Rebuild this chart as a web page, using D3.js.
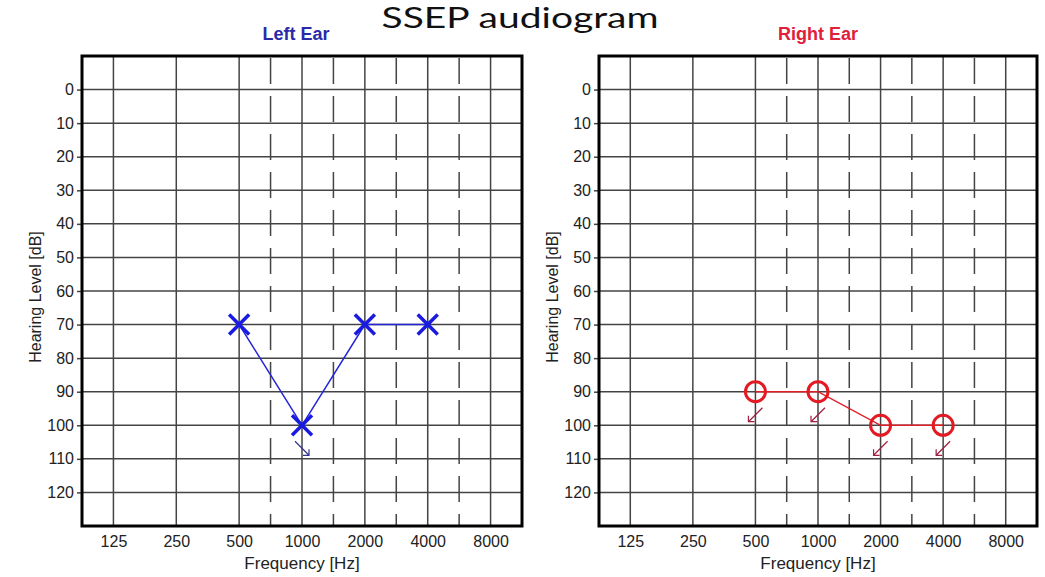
<!DOCTYPE html>
<html>
<head>
<meta charset="utf-8">
<script src="https://cdn.jsdelivr.net/npm/d3@7"></script>
<style>
  body { margin: 0; background: #fff; }
  text { font-family: "Liberation Sans", Arial, sans-serif; }
</style>
</head>
<body>
<svg id="chart" width="1045" height="577"></svg>
<script>
// tick values
var freqTicks = [125, 250, 500, 1000, 2000, 4000, 8000];
var midFreqs = [707, 1414, 2828, 5657]; // inter-octave dashed lines (drawn half way)
var dbTicks = [0, 10, 20, 30, 40, 50, 60, 70, 80, 90, 100, 110, 120];

// left ear thresholds
var leftFreq = [500, 1000, 2000, 4000];
var leftDb = [70, 100, 70, 70];
var leftNoResp = [false, true, false, false];

// right ear thresholds
var rightFreq = [500, 1000, 2000, 4000];
var rightDb = [90, 90, 100, 100];
var rightNoResp = [true, true, true, true];

var svg = d3.select("#chart");

svg.append("text").attr("x", 520).attr("y", 28).attr("text-anchor", "middle")
    .style("font-family", "Lato, 'Liberation Sans', sans-serif").style("font-size", "28px")
    .attr("textLength", 277).attr("lengthAdjust", "spacingAndGlyphs")
    .attr("fill", "#111").text("SSEP audiogram");

function drawPanel(left, top, width, height, opts){
    var g = svg.append("g").attr("transform", "translate(" + left + "," + top + ")");
    var x = d3.scaleLog().base(2).domain([125 / Math.SQRT2, 8000 * Math.SQRT2]).range([0, width]);
    var y = d3.scaleLinear().domain([-10, 130]).range([0, height]);

    // title
    g.append("text").attr("x", width / 2 + opts.titleShift).attr("y", -16).attr("text-anchor", "middle")
        .style("font-size", "18px").style("font-weight", "bold").attr("fill", opts.titleColor).text(opts.title);

    // horizontal grid
    g.append("g").selectAll("line").data(dbTicks).enter().append("line")
        .attr("x1", 0).attr("x2", width).attr("y1", function(d){ return y(d); }).attr("y2", function(d){ return y(d); })
        .attr("stroke", "#444").attr("stroke-width", 1.5);
    // octave grid
    g.append("g").selectAll("line").data(freqTicks).enter().append("line")
        .attr("x1", function(d){ return x(d); }).attr("x2", function(d){ return x(d); }).attr("y1", 0).attr("y2", height)
        .attr("stroke", "#444").attr("stroke-width", 1.5);
    // inter-octave dashed grid
    g.append("g").selectAll("line").data(midFreqs).enter().append("line")
        .attr("x1", function(d){ return x(d); }).attr("x2", function(d){ return x(d); }).attr("y1", 2).attr("y2", height)
        .attr("stroke", "#444").attr("stroke-width", 1.5).attr("stroke-dasharray", "26 12");

    // y axis
    var yAxis = d3.axisLeft(y).tickValues(dbTicks).tickSize(5).tickPadding(3);
    var ya = g.append("g").call(yAxis);
    ya.select(".domain").remove();
    ya.selectAll("line").attr("stroke", "#444").attr("stroke-width", 1.5);
    ya.selectAll("text").style("font-size", "16px").style("font-family", "'Liberation Sans', Arial, sans-serif").attr("fill", "#222");

    // x axis labels
    var xAxis = d3.axisBottom(x).tickValues(freqTicks).tickSize(0).tickPadding(10).tickFormat(d3.format("d"));
    var xa = g.append("g").attr("transform", "translate(0," + height + ")").call(xAxis);
    xa.select(".domain").remove();
    xa.selectAll("text").style("font-size", "16px").style("font-family", "'Liberation Sans', Arial, sans-serif").attr("fill", "#222");

    g.append("text").attr("x", width / 2).attr("y", height + 43).attr("text-anchor", "middle")
        .style("font-size", "17px").attr("fill", "#222").text("Frequency [Hz]");
    g.append("text").attr("transform", "translate(-41," + (height / 2 + 6) + ") rotate(-90)").attr("text-anchor", "middle")
        .style("font-size", "16px").attr("fill", "#222").text("Hearing Level [dB]");

    // frame
    g.append("rect").attr("x", 0).attr("y", 0).attr("width", width).attr("height", height)
        .attr("fill", "none").attr("stroke", "#000").attr("stroke-width", 3);

    var pts = opts.freq.map(function(f, i){ return {f: f, db: opts.db[i], nr: opts.noResp[i]}; });
    var line = d3.line().x(function(d){ return x(d.f); }).y(function(d){ return y(d.db); });
    g.append("path").attr("d", line(pts)).attr("fill", "none").attr("stroke", opts.color).attr("stroke-width", 1.5);

    // no-response arrows
    var dir = opts.arrowDir;
    g.append("g").selectAll("path").data(pts.filter(function(d){ return d.nr; })).enter().append("path")
        .attr("d", function(d){
            var cx = x(d.f), cy = y(d.db);
            var sx = cx - 7 * dir, sy = cy + 16, tx = cx + 7 * dir, ty = cy + 30;
            return "M" + sx + "," + sy + "L" + tx + "," + ty + "M" + (tx - 6 * dir) + "," + ty + "L" + tx + "," + ty + "L" + tx + "," + (ty - 6);
        })
        .attr("fill", "none").attr("stroke", opts.arrowColor).attr("stroke-width", 1.2);

    // markers
    var mk = g.append("g").selectAll("g").data(pts).enter().append("g")
        .attr("transform", function(d){ return "translate(" + x(d.f) + "," + y(d.db) + ")"; });
    if (opts.symbol == "x"){
        mk.append("path").attr("d", "M-10,-10L10,10M-10,10L10,-10")
            .attr("stroke", opts.markColor).attr("stroke-width", 3.5).attr("fill", "none");
    } else {
        mk.append("circle").attr("r", 10).attr("fill", "none")
            .attr("stroke", opts.markColor).attr("stroke-width", 3);
    }
}

drawPanel(82, 56, 440, 470, {
    title: "Left Ear", titleColor: "#2a2aa8", titleShift: -6,
    freq: leftFreq, db: leftDb, noResp: leftNoResp,
    color: "#2424d8", markColor: "#1a1ae0", arrowColor: "#34348a", arrowDir: 1, symbol: "x"
});
drawPanel(599, 56, 438, 470, {
    title: "Right Ear", titleColor: "#e0203a", titleShift: 0,
    freq: rightFreq, db: rightDb, noResp: rightNoResp,
    color: "#e01e28", markColor: "#e41a22", arrowColor: "#a02040", arrowDir: -1, symbol: "o"
});
</script>
</body>
</html>
